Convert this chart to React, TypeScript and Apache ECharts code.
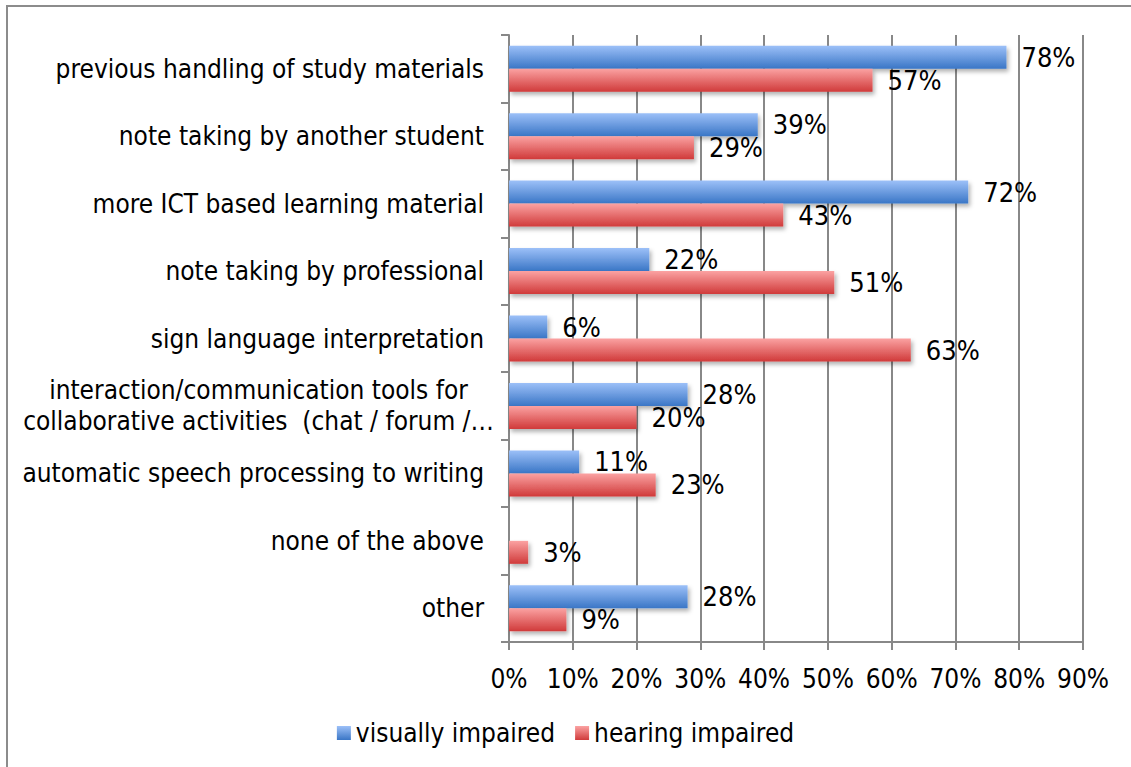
import React, { useEffect, useRef } from "react";
import * as echarts from "echarts";

const categories = [
  "previous handling of study materials",
  "note taking by another student",
  "more ICT based learning material",
  "note taking by professional",
  "sign language interpretation",
  "interaction/communication tools for\ncollaborative activities  (chat / forum /…",
  "automatic speech processing to writing",
  "none of the above",
  "other",
];
const visuallyImpaired: (number | null)[] = [78, 39, 72, 22, 6, 28, 11, null, 28];
const hearingImpaired: (number | null)[] = [57, 29, 43, 51, 63, 20, 23, 3, 9];
const xTicks = [0, 10, 20, 30, 40, 50, 60, 70, 80, 90];

const FONT = "'DejaVu Sans Condensed', 'DejaVu Sans', sans-serif";

export default function App() {
  const ref = useRef<HTMLDivElement>(null);
  useEffect(() => {
    if (!ref.current) return;
    const chart = echarts.init(ref.current, null, { renderer: "svg" });
    const mk = (a: string, b: string) =>
      new echarts.graphic.LinearGradient(0, 0, 0, 1, [
        { offset: 0, color: a },
        { offset: 1, color: b },
      ]);
    const blue = mk("#9cc0f8", "#3a76c6");
    const red = mk("#fba2a2", "#d03a3a");
    const blueLegend = mk("#9cc0f8", "#3a76c6");
    const redLegend = mk("#fba2a2", "#d03a3a");
    const labelStyle = {
      show: true,
      position: "right" as const,
      distance: 15,
      fontSize: 27,
      fontFamily: FONT,
      color: "#000",
      formatter: (p: any) => (p.value == null ? "" : p.value + "%"),
    };
    const shadow = {
      shadowBlur: 4,
      shadowOffsetX: 2,
      shadowOffsetY: 3,
      shadowColor: "rgba(0,0,0,0.3)",
    };
    chart.setOption({
      animation: false,
      graphic: [
        {
          type: "rect",
          shape: { x: 7, y: 6, width: 1300, height: 1000 },
          style: { fill: "none", stroke: "#8c8c8c", lineWidth: 2 },
          silent: true,
        },
      ],
      grid: { left: 509, right: 48, top: 35, bottom: 125 },
      legend: {
        top: 715,
        left: "center",
        itemWidth: 14,
        itemHeight: 14,
        itemGap: 20,
        icon: "rect",
        textStyle: { fontSize: 26, fontFamily: FONT, color: "#000" },
        data: [
          { name: "visually impaired", itemStyle: { color: blueLegend, shadowBlur: 0, shadowOffsetX: 0, shadowOffsetY: 0 } },
          { name: "hearing impaired", itemStyle: { color: redLegend, shadowBlur: 0, shadowOffsetX: 0, shadowOffsetY: 0 } },
        ],
      },
      xAxis: {
        type: "value",
        min: xTicks[0],
        max: xTicks[xTicks.length - 1],
        interval: 10,
        axisLine: { show: true, lineStyle: { color: "#888", width: 2 } },
        axisTick: { show: true, length: 8, lineStyle: { color: "#888", width: 2 } },
        splitLine: { show: true, lineStyle: { color: "#888", width: 2 } },
        axisLabel: {
          fontSize: 26,
          fontFamily: FONT,
          color: "#000",
          margin: 24,
          formatter: "{value}%",
        },
      },
      yAxis: {
        type: "category",
        inverse: true,
        data: categories,
        axisLine: { show: true, lineStyle: { color: "#888", width: 2 } },
        axisTick: { show: true, length: 8, lineStyle: { color: "#888", width: 2 } },
        axisLabel: {
          fontSize: 26,
          fontFamily: FONT,
          color: "#000",
          margin: 25,
          lineHeight: 31,
          formatter: (v: string) => {
            if (v.indexOf("\n") >= 0) {
              return v
                .split("\n")
                .map((s) => "{c|" + s + "}")
                .join("\n");
            }
            return v;
          },
          rich: {
            c: {
              align: "center",
              width: 451,
              fontSize: 26,
              fontFamily: FONT,
              color: "#000",
              lineHeight: 31,
            },
          },
        },
      },
      series: [
        {
          name: "visually impaired",
          type: "bar",
          data: visuallyImpaired,
          barWidth: 23,
          barGap: "0%",
          itemStyle: { color: blue, ...shadow },
          label: { ...labelStyle },
        },
        {
          name: "hearing impaired",
          type: "bar",
          data: hearingImpaired,
          barWidth: 23,
          barGap: "0%",
          itemStyle: { color: red, ...shadow },
          label: { ...labelStyle },
        },
      ],
    });
    return () => chart.dispose();
  }, []);
  return (
    <div
      ref={ref}
      style={{ position: "absolute", left: 0, top: 0, width: 1131, height: 767, background: "#fff" }}
    />
  );
}
